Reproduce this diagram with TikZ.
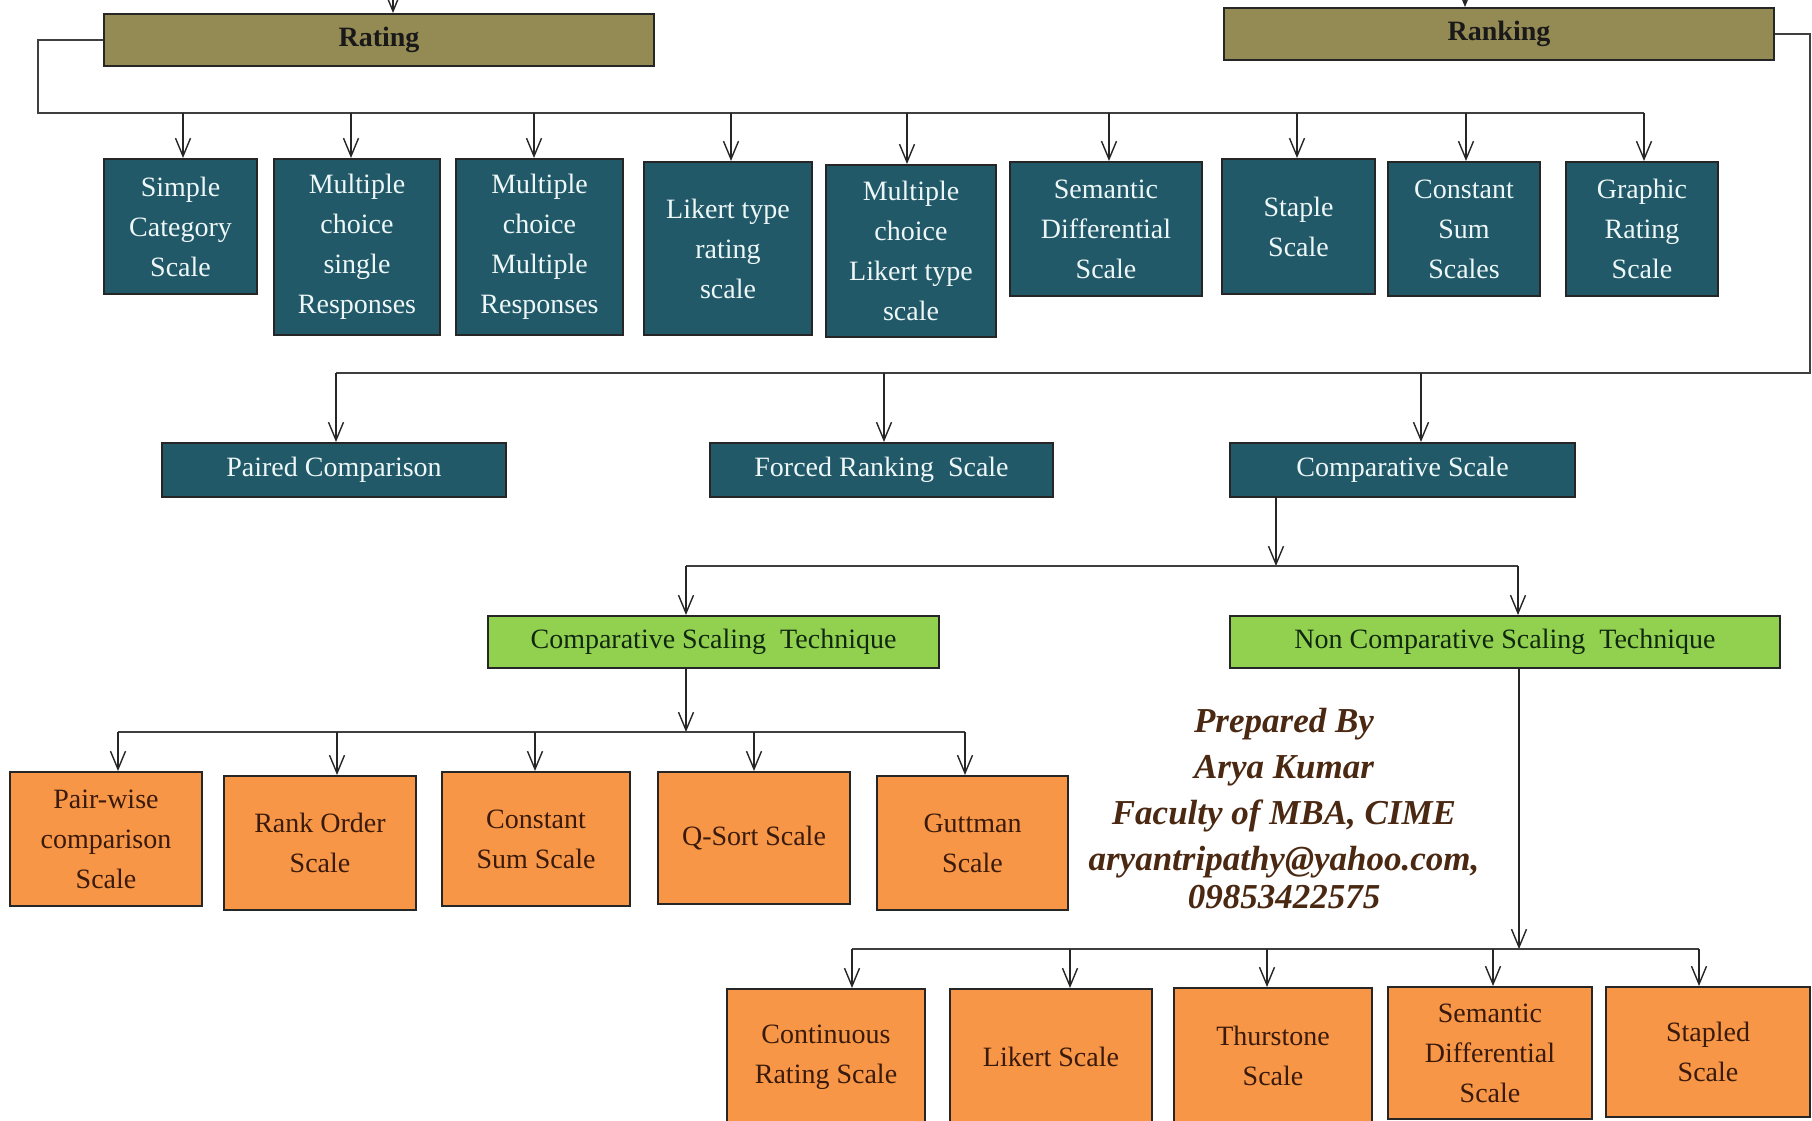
\documentclass[tikz,border=0pt]{standalone}
\usepackage{fontspec}
\setmainfont{Liberation Serif}
\usetikzlibrary{arrows.meta}

\definecolor{olivebox}{HTML}{948A54}
\definecolor{tealbox}{HTML}{215968}
\definecolor{greenbox}{HTML}{92D050}
\definecolor{orangebox}{HTML}{F79646}
\definecolor{edge}{HTML}{262626}
\definecolor{busline}{HTML}{3F3F3F}
\definecolor{tealtext}{HTML}{EEF7F7}
\definecolor{greentext}{HTML}{102810}
\definecolor{orangetext}{HTML}{3A1A0C}
\definecolor{sigbrown}{HTML}{4A2812}

\begin{document}
\begin{tikzpicture}[x=1pt,y=-1pt,
  box/.style={draw=edge,line width=2pt,align=center,inner sep=0pt,
              font=\fontsize{28}{40}\selectfont},
  headbox/.style={box,fill=olivebox,text=black!90,
              font=\fontsize{28}{34}\selectfont\bfseries,
              minimum width=550pt,minimum height=52pt},
  tealnode/.style={box,fill=tealbox,text=tealtext},
  greennode/.style={box,fill=greenbox,text=greentext,minimum height=52pt},
  orangenode/.style={box,fill=orangebox,text=orangetext},
  bus/.style={draw=busline,line width=2.5pt},
  link/.style={draw=black!85,line width=1.4pt},
  feed/.style={link,-{Straight Barb[length=18pt,width=15pt,line width=1.4pt]}}
]
\useasboundingbox (0,0) rectangle (1812,1121);
\fill[white] (0,0) rectangle (1812,1121);
\clip (0,0) rectangle (1812,1121);

% top level
\node[headbox] (rating)  at (379,40)  {Rating};
\node[headbox] (ranking) at (1499,34) {Ranking};

% rating scales
\node[tealnode,minimum width=153pt,minimum height=135pt] (s1) at (180.5,226.5) {Simple\\Category\\Scale};
\node[tealnode,minimum width=166pt,minimum height=176pt] (s2) at (357,247)     {Multiple\\choice\\single\\Responses};
\node[tealnode,minimum width=167pt,minimum height=176pt] (s3) at (539.5,247)   {Multiple\\choice\\Multiple\\Responses};
\node[tealnode,minimum width=168pt,minimum height=173pt] (s4) at (728,248.5)   {Likert type\\rating\\scale};
\node[tealnode,minimum width=170pt,minimum height=172pt] (s5) at (911,251)     {Multiple\\choice\\Likert type\\scale};
\node[tealnode,minimum width=192pt,minimum height=134pt] (s6) at (1106,229)    {Semantic\\Differential\\Scale};
\node[tealnode,minimum width=153pt,minimum height=135pt] (s7) at (1298.5,226.5){Staple\\Scale};
\node[tealnode,minimum width=152pt,minimum height=134pt] (s8) at (1464,229)    {Constant\\Sum\\Scales};
\node[tealnode,minimum width=152pt,minimum height=134pt] (s9) at (1642,229)    {Graphic\\Rating\\Scale};

% ranking scales
\node[tealnode,minimum width=344pt,minimum height=54pt] (pc) at (334,470)    {Paired Comparison};
\node[tealnode,minimum width=343pt,minimum height=54pt] (fr) at (881.5,470)  {Forced Ranking\ \ Scale};
\node[tealnode,minimum width=345pt,minimum height=54pt] (cs) at (1402.5,470) {Comparative Scale};

% scaling techniques
\node[greennode,minimum width=451pt] (cst)  at (713.5,642) {Comparative Scaling\ \ Technique};
\node[greennode,minimum width=550pt] (ncst) at (1505,642)  {Non Comparative Scaling\ \ Technique};

% comparative techniques
\node[orangenode,minimum width=192pt,minimum height=134pt] (o1) at (106,839)   {Pair-wise\\comparison\\Scale};
\node[orangenode,minimum width=192pt,minimum height=134pt] (o2) at (320,843)   {Rank Order\\Scale};
\node[orangenode,minimum width=188pt,minimum height=134pt] (o3) at (536,839)   {Constant\\Sum Scale};
\node[orangenode,minimum width=192pt,minimum height=132pt] (o4) at (754,838)   {Q-Sort Scale};
\node[orangenode,minimum width=191pt,minimum height=134pt] (o5) at (972.5,843) {Guttman\\Scale};

% non comparative techniques
\node[orangenode,minimum width=198pt,minimum height=136pt] (n1) at (826,1057)  {Continuous\\Rating Scale};
\node[orangenode,minimum width=202pt,minimum height=136pt] (n2) at (1051,1057) {Likert Scale};
\node[orangenode,minimum width=198pt,minimum height=136pt] (n3) at (1273,1056) {Thurstone\\Scale};
\node[orangenode,minimum width=204pt,minimum height=132pt] (n4) at (1490,1053) {Semantic\\Differential\\Scale};
\node[orangenode,minimum width=204pt,minimum height=130pt] (n5) at (1708,1052) {Stapled\\Scale};

% author note
\node[font=\fontsize{35}{46}\selectfont\bfseries\itshape,text=sigbrown,align=center] (sig) at (1284,809)
  {Prepared By\\Arya Kumar\\Faculty of MBA, CIME\\aryantripathy@yahoo.com,\\[-8pt]09853422575};

% incoming stubs at the top
\coordinate (ta) at (393,-30);
\coordinate (tb) at (1465,-30);
\draw[feed] (ta) -- (ta |- rating.north);
\draw[feed] (tb) -- (tb |- ranking.north);

% rating bus
\coordinate (rl) at (38,113);
\coordinate (rr) at (1644,113);
\draw[bus] (rating.west) -| (rl) -- (rr);
\foreach \n/\x in {s1/183,s2/351,s3/534,s4/731,s5/907,s6/1109,s7/1297,s8/1466,s9/1644}
  \draw[feed] (\x,113) -- (\x,113 |- \n.north);

% ranking bus
\coordinate (kr) at (1810,373);
\coordinate (kl) at (336,373);
\draw[bus] (ranking.east) -| (kr) -- (kl);
\foreach \n/\x in {pc/336,fr/884,cs/1421}
  \draw[feed] (\x,373) -- (\x,373 |- \n.north);

% comparative scale split
\coordinate (cdrop) at (1276,566);
\draw[feed] (cdrop |- cs.south) -- (cdrop);
\coordinate (cb1) at (686,566);
\coordinate (cb2) at (1518,566);
\draw[bus] (cb1) -- (cb2);
\draw[feed] (cb1) -- (cb1 |- cst.north);
\draw[feed] (cb2) -- (cb2 |- ncst.north);

% comparative techniques bus
\coordinate (ob) at (686,732);
\draw[feed] (ob |- cst.south) -- (ob);
\draw[bus] (118,732) -- (965,732);
\foreach \n/\x in {o1/118,o2/337,o3/535,o4/754,o5/965}
  \draw[feed] (\x,732) -- (\x,732 |- \n.north);

% non comparative techniques bus
\coordinate (nb) at (1519,949);
\draw[feed] (nb |- ncst.south) -- (nb);
\draw[bus] (852,949) -- (1699,949);
\foreach \n/\x in {n1/852,n2/1070,n3/1267,n4/1493,n5/1699}
  \draw[feed] (\x,949) -- (\x,949 |- \n.north);
\end{tikzpicture}
\end{document}
